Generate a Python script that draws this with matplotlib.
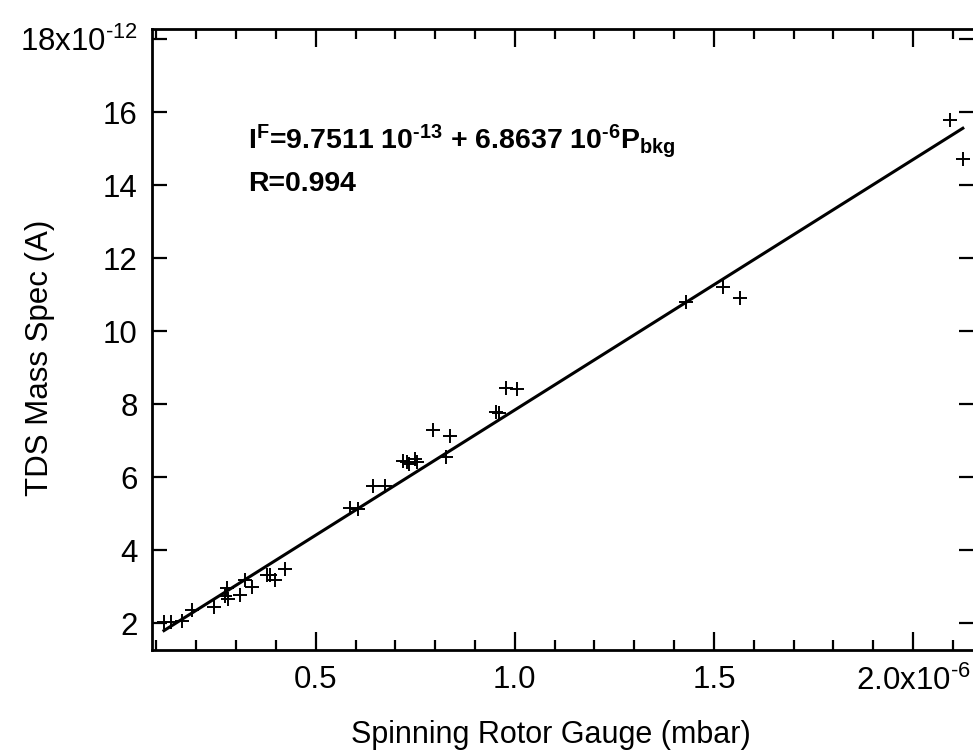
import numpy as np
import matplotlib.pyplot as plt
from matplotlib.ticker import MultipleLocator, FuncFormatter

plt.rcParams['font.family'] = ['Liberation Sans', 'DejaVu Sans']
plt.rcParams['mathtext.fontset'] = 'custom'
plt.rcParams['mathtext.rm'] = 'Liberation Sans'
plt.rcParams['mathtext.it'] = 'Liberation Sans:italic'
plt.rcParams['mathtext.bf'] = 'Liberation Sans:bold'

# spinning rotor gauge pressure, in units of 1e-6 mbar
p_srg = [0.119, 0.136, 0.165, 0.190, 0.244, 0.272, 0.280, 0.277, 0.311,
         0.323, 0.340, 0.378, 0.386, 0.398, 0.423, 0.586, 0.607, 0.643,
         0.673, 0.720, 0.730, 0.735, 0.750, 0.755, 0.794, 0.826, 0.837,
         0.952, 0.961, 0.979, 1.006, 1.429, 1.523, 1.566, 2.094, 2.125]
# TDS mass spec current, in units of 1e-12 A
i_tds = [2.04, 2.04, 2.05, 2.36, 2.43, 2.74, 2.65, 2.95, 2.77,
         3.18, 3.00, 3.32, 3.32, 3.18, 3.47, 5.14, 5.12, 5.76,
         5.76, 6.45, 6.40, 6.35, 6.50, 6.42, 7.29, 6.56, 7.13,
         7.79, 7.75, 8.43, 8.41, 10.81, 11.20, 10.90, 15.79, 14.71]

# linear fit I = a + b * P
fit_a = 9.7511e-13
fit_b = 6.8637e-6

x_ticks = [0.5, 1.0, 1.5, 2.0]
y_ticks = [2, 4, 6, 8, 10, 12, 14, 16, 18]

fig = plt.figure(figsize=(9.73, 7.56), dpi=100)
ax = fig.add_axes([0.1559, 0.1402, 1.001 - 0.1559, 0.9616 - 0.1402])

ax.plot(p_srg, i_tds, 'k+', markersize=10, markeredgewidth=1.4, linestyle='none')

p_fit = np.array([min(p_srg), max(p_srg)])
i_fit = (fit_a + fit_b * p_fit * 1e-6) * 1e12
ax.plot(p_fit, i_fit, color='black', linewidth=2.2)

ax.set_xlim(0.0882, 2.153)
ax.set_ylim(1.26, 18.28)

ax.set_xticks(x_ticks)
ax.xaxis.set_minor_locator(MultipleLocator(0.1))
ax.set_yticks(y_ticks)


def fmt_x(v, pos):
    if abs(v - 2.0) < 1e-6:
        return r'2.0x10$^{\text{-6}}$'
    return f'{v:.1f}'


def fmt_y(v, pos):
    if abs(v - 18) < 1e-6:
        return r'18x10$^{\text{-12}}$'
    return f'{v:.0f}'


ax.xaxis.set_major_formatter(FuncFormatter(fmt_x))
ax.yaxis.set_major_formatter(FuncFormatter(fmt_y))

ax.tick_params(which='both', direction='in', top=True, right=True,
               width=1.6, labelsize=22.5)
ax.tick_params(axis='x', which='major', length=13, pad=11)
ax.tick_params(axis='x', which='minor', length=7)
ax.tick_params(axis='y', which='major', length=11, pad=10)

for s in ax.spines.values():
    s.set_linewidth(2)

ax.set_xlabel('Spinning Rotor Gauge (mbar)', fontsize=22)
ax.xaxis.set_label_coords(0.486, -0.113)
ax.set_ylabel('TDS Mass Spec (A)', fontsize=22.5)
ax.yaxis.set_label_coords(-0.118, 0.47)

ax.text(0.33, 14.99,
        'I$^{\\mathbf{F}}$=9.7511 10$^{\\mathbf{\u201013}}$ + 6.8637 10$^{\\mathbf{\u20106}}$P$_{\\mathbf{bkg}}$',
        fontsize=20.5, fontweight='bold', va='baseline')
ax.text(0.33, 13.85, 'R=0.994', fontsize=20.5, fontweight='bold', va='baseline')

fig.savefig('out.png', dpi=100)
